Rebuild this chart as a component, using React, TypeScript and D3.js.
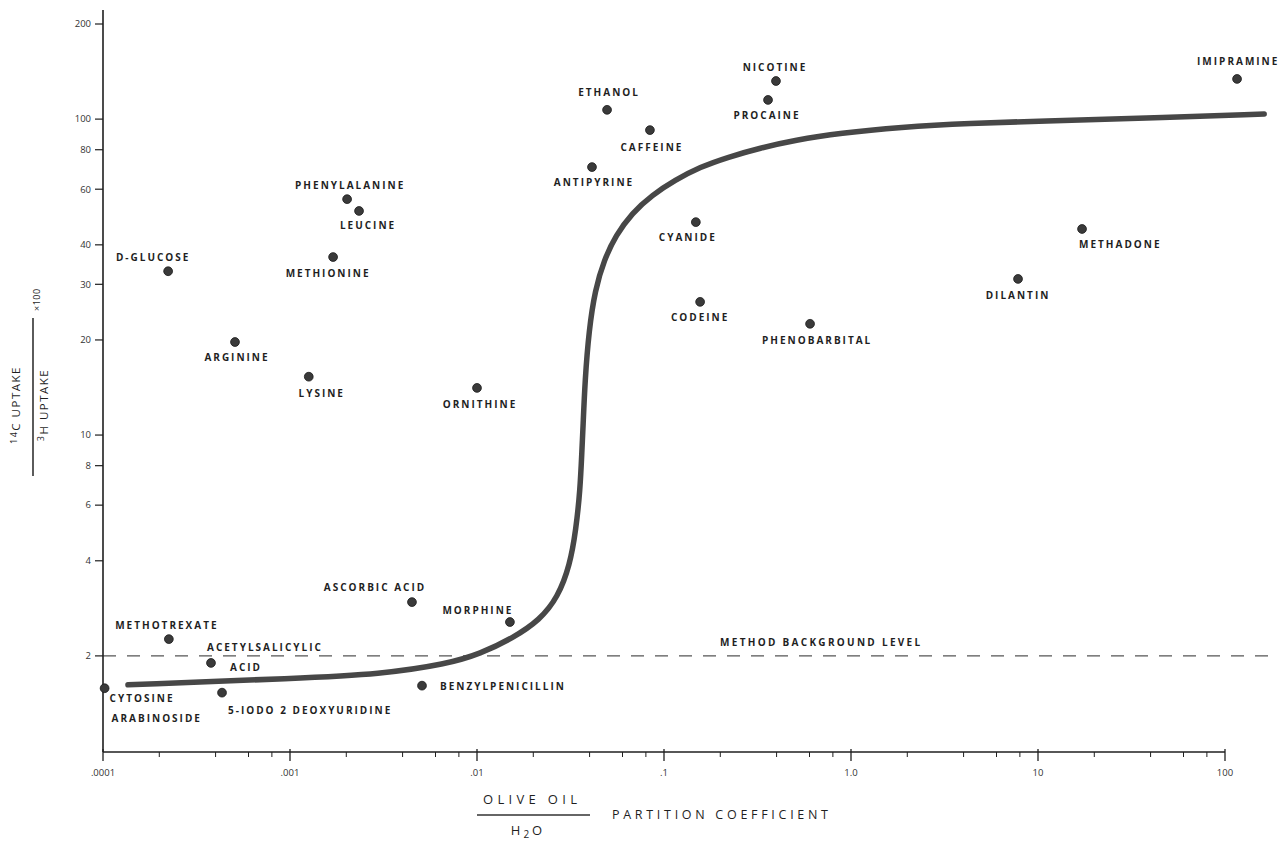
import * as d3 from 'd3';

const W = 1285;
const H = 844;

// Brain uptake index (14C / 3H uptake x100) vs olive oil / water partition coefficient
const compoundNames = [
  'CYTOSINE\nARABINOSIDE',
  'METHOTREXATE',
  'ACETYLSALICYLIC\nACID',
  '5-IODO 2 DEOXYURIDINE',
  'D-GLUCOSE',
  'ARGININE',
  'PHENYLALANINE',
  'LEUCINE',
  'METHIONINE',
  'LYSINE',
  'ORNITHINE',
  'ASCORBIC ACID',
  'MORPHINE',
  'BENZYLPENICILLIN',
  'ETHANOL',
  'CAFFEINE',
  'ANTIPYRINE',
  'NICOTINE',
  'PROCAINE',
  'CYANIDE',
  'CODEINE',
  'PHENOBARBITAL',
  'DILANTIN',
  'METHADONE',
  'IMIPRAMINE',
];
const partitionCoef = [
  0.000102, 0.000225, 0.000378, 0.000433, 0.000223, 0.000508, 0.00202, 0.00234, 0.0017,
  0.00126, 0.01, 0.00449, 0.015, 0.00508, 0.0496, 0.0841, 0.0412, 0.397, 0.36, 0.148,
  0.156, 0.604, 7.82, 17.2, 116,
];
const uptakeRatio = [
  1.58, 2.26, 1.9, 1.53, 33, 19.7, 55.8, 51.2, 36.6, 15.3, 14.1, 2.96, 2.56, 1.61, 107, 92.3,
  70.5, 132, 115, 47.2, 26.4, 22.5, 31.2, 44.9, 134,
];

// hand-drawn trend curve
const curvePartition = [
  0.000136, 0.00113, 0.00303, 0.00692, 0.0104, 0.0156, 0.0217, 0.0271, 0.0314, 0.0338,
  0.0356, 0.0364, 0.0369, 0.0378, 0.0397, 0.0428, 0.0478, 0.0553, 0.0674, 0.0863, 0.1146,
  0.1557, 0.2198, 0.326, 0.502, 0.873, 1.83, 4.33, 10.5, 36.4, 162,
];
const curveUptake = [
  1.62, 1.7, 1.75, 1.885, 2.03, 2.28, 2.6, 3.07, 3.88, 5.01, 6.7, 8.97, 10.6, 14.9, 21.5,
  28.8, 35.8, 42.9, 50.4, 57.5, 64.1, 70.5, 75.8, 81, 85.8, 90.3, 94.3, 97.1, 98.6, 100.7,
  103.8,
];

const backgroundLevel = 2;

const yTickValues = [2, 4, 6, 8, 10, 20, 30, 40, 60, 80, 100, 200];
const xMajorTicks = [0.0001, 0.001, 0.01, 0.1, 1, 10, 100];
const xTickLabels = ['.0001', '.001', '.01', '.1', '1.0', '10', '100'];
const xMinorSteps = [2, 4, 6, 8];

// label placement (pixels, relative to the dot) per line
type LineAt = { dx: number; dy: number; anchor: 'start' | 'middle' | 'end' };
const labelAt: Record<string, LineAt[]> = {
  'CYTOSINE\nARABINOSIDE': [{ dx: 5, dy: 10, anchor: 'start' }, { dx: 7, dy: 30, anchor: 'start' }],
  METHOTREXATE: [{ dx: -2, dy: -14, anchor: 'middle' }],
  'ACETYLSALICYLIC\nACID': [{ dx: -4, dy: -15, anchor: 'start' }, { dx: 19, dy: 5, anchor: 'start' }],
  '5-IODO 2 DEOXYURIDINE': [{ dx: 6, dy: 18, anchor: 'start' }],
  'D-GLUCOSE': [{ dx: -15, dy: -14, anchor: 'middle' }],
  ARGININE: [{ dx: 2, dy: 15, anchor: 'middle' }],
  PHENYLALANINE: [{ dx: -52, dy: -14, anchor: 'start' }],
  LEUCINE: [{ dx: 9, dy: 15, anchor: 'middle' }],
  METHIONINE: [{ dx: -5, dy: 16, anchor: 'middle' }],
  LYSINE: [{ dx: 13, dy: 17, anchor: 'middle' }],
  ORNITHINE: [{ dx: 3, dy: 17, anchor: 'middle' }],
  'ASCORBIC ACID': [{ dx: -37, dy: -15, anchor: 'middle' }],
  MORPHINE: [{ dx: -32, dy: -12, anchor: 'middle' }],
  BENZYLPENICILLIN: [{ dx: 18, dy: 1, anchor: 'start' }],
  ETHANOL: [{ dx: 2, dy: -17, anchor: 'middle' }],
  CAFFEINE: [{ dx: 2, dy: 17, anchor: 'middle' }],
  ANTIPYRINE: [{ dx: 2, dy: 15, anchor: 'middle' }],
  NICOTINE: [{ dx: -1, dy: -14, anchor: 'middle' }],
  PROCAINE: [{ dx: -1, dy: 16, anchor: 'middle' }],
  CYANIDE: [{ dx: -8, dy: 15, anchor: 'middle' }],
  CODEINE: [{ dx: 0, dy: 16, anchor: 'middle' }],
  PHENOBARBITAL: [{ dx: -48, dy: 17, anchor: 'start' }],
  DILANTIN: [{ dx: 0, dy: 17, anchor: 'middle' }],
  METHADONE: [{ dx: -3, dy: 16, anchor: 'start' }],
  IMIPRAMINE: [{ dx: -40, dy: -17, anchor: 'start' }],
};

const ink = '#1f1f1f';
const font = '"Open Sans", "DejaVu Sans", sans-serif';

export default function App() {
  const x = d3.scaleLog().domain([0.0001, 100]).range([103, 1225]);
  const y = d3.scaleLog().domain([1, 200]).range([751, 24]);

  const curvePts = curvePartition.map((p, i) => [p, curveUptake[i]] as [number, number]);
  const curvePath = d3
    .line<[number, number]>()
    .x((d) => x(d[0]))
    .y((d) => y(d[1]))
    .curve(d3.curveBasis)(curvePts);

  const minorTicks: number[] = [];
  xMajorTicks.slice(0, -1).forEach((t) => xMinorSteps.forEach((s) => minorTicks.push(t * s)));

  const axisY = y(1) + 1;
  const left = x(0.0001);

  return (
    <div style={{ position: 'fixed', left: 0, top: 0, width: W, height: H, background: '#fff' }}>
      <svg width={W} height={H} viewBox={`0 0 ${W} ${H}`} style={{ display: 'block', fontFamily: font }}>
        {/* method background level */}
        <line x1={left} x2={1272} y1={y(backgroundLevel)} y2={y(backgroundLevel)}
          stroke="#555" strokeWidth={1.1} strokeDasharray="13,11" />
        <text x={720} y={y(backgroundLevel) - 10} fontSize={10} fontWeight={700} letterSpacing={2.3} fill={ink}>
          METHOD  BACKGROUND  LEVEL
        </text>

        {/* trend curve */}
        <path d={curvePath ?? ''} fill="none" stroke="#474747" strokeWidth={5.5} strokeLinecap="round"
          strokeLinejoin="round" />

        {/* axes */}
        <line x1={left} x2={left} y1={10} y2={axisY} stroke={ink} strokeWidth={1.6} />
        <line x1={left} x2={x(100)} y1={axisY} y2={axisY} stroke={ink} strokeWidth={1.6} />
        {yTickValues.map((v) => (
          <g key={`y${v}`}>
            <line x1={left - 8} x2={left} y1={y(v)} y2={y(v)} stroke={ink} strokeWidth={1.2} />
            <text x={left - 12} y={y(v)} dy="0.35em" textAnchor="end" fontSize={9.5} fill="#333">
              {v}
            </text>
          </g>
        ))}
        {minorTicks.map((v) => (
          <line key={`m${v}`} x1={x(v)} x2={x(v)} y1={axisY} y2={axisY + 5} stroke={ink} strokeWidth={1} />
        ))}
        {xMajorTicks.map((v, i) => (
          <g key={`x${v}`}>
            <line x1={x(v)} x2={x(v)} y1={axisY - 3} y2={axisY + 9} stroke={ink} strokeWidth={1.3} />
            <text x={x(v)} y={773} dy="0.35em" textAnchor="middle" fontSize={9.5} fill="#333">
              {xTickLabels[i]}
            </text>
          </g>
        ))}

        {/* compounds */}
        {compoundNames.map((name, i) => {
          const cx = x(partitionCoef[i]);
          const cy = y(uptakeRatio[i]);
          const lines = name.split('\n');
          return (
            <g key={name}>
              <circle cx={cx} cy={cy} r={4.4} fill="#3a3a3a" stroke="#1a1a1a" strokeWidth={0.8} />
              {lines.map((ln, j) => {
                const at = labelAt[name][j];
                return (
                  <text key={j} x={cx + at.dx} y={cy + at.dy} dy="0.35em" textAnchor={at.anchor}
                    fontSize={10} fontWeight={700} letterSpacing={2} fill={ink}>
                    {ln}
                  </text>
                );
              })}
            </g>
          );
        })}

        {/* x axis title */}
        <text x={530} y={799} dy="0.35em" textAnchor="middle" fontSize={13} fill={ink}
          textLength={94} lengthAdjust="spacing">
          OLIVE  OIL
        </text>
        <line x1={477} x2={590} y1={815} y2={815} stroke="#333" strokeWidth={1.4} />
        <text x={528} y={830} dy="0.35em" textAnchor="middle" fontSize={13} letterSpacing={3} fill={ink}>
          H<tspan fontSize={10} dy={3}>2</tspan><tspan dy={-3}>O</tspan>
        </text>
        <text x={612} y={815} dy="0.35em" fontSize={12.5} fill={ink} textLength={216} lengthAdjust="spacing">
          PARTITION  COEFFICIENT
        </text>

        {/* y axis title (rotated fraction) */}
        <g transform="translate(33,397) rotate(-90)">
          <line x1={-79} x2={79} y1={0} y2={0} stroke="#333" strokeWidth={1.6} />
          <text x={-8} y={-13} textAnchor="middle" fontSize={11.5} letterSpacing={1.5} fill={ink}>
            <tspan fontSize={9} dy={-3}>14</tspan>
            <tspan dy={3}>C UPTAKE</tspan>
          </text>
          <text x={-8} y={15} textAnchor="middle" fontSize={11.5} letterSpacing={1.5} fill={ink}>
            <tspan fontSize={9} dy={-4}>3</tspan>
            <tspan dy={4}>H  UPTAKE</tspan>
          </text>
          <text x={86} y={7} fontSize={9} letterSpacing={0.5} fill={ink}>
            ×100
          </text>
        </g>
      </svg>
    </div>
  );
}
